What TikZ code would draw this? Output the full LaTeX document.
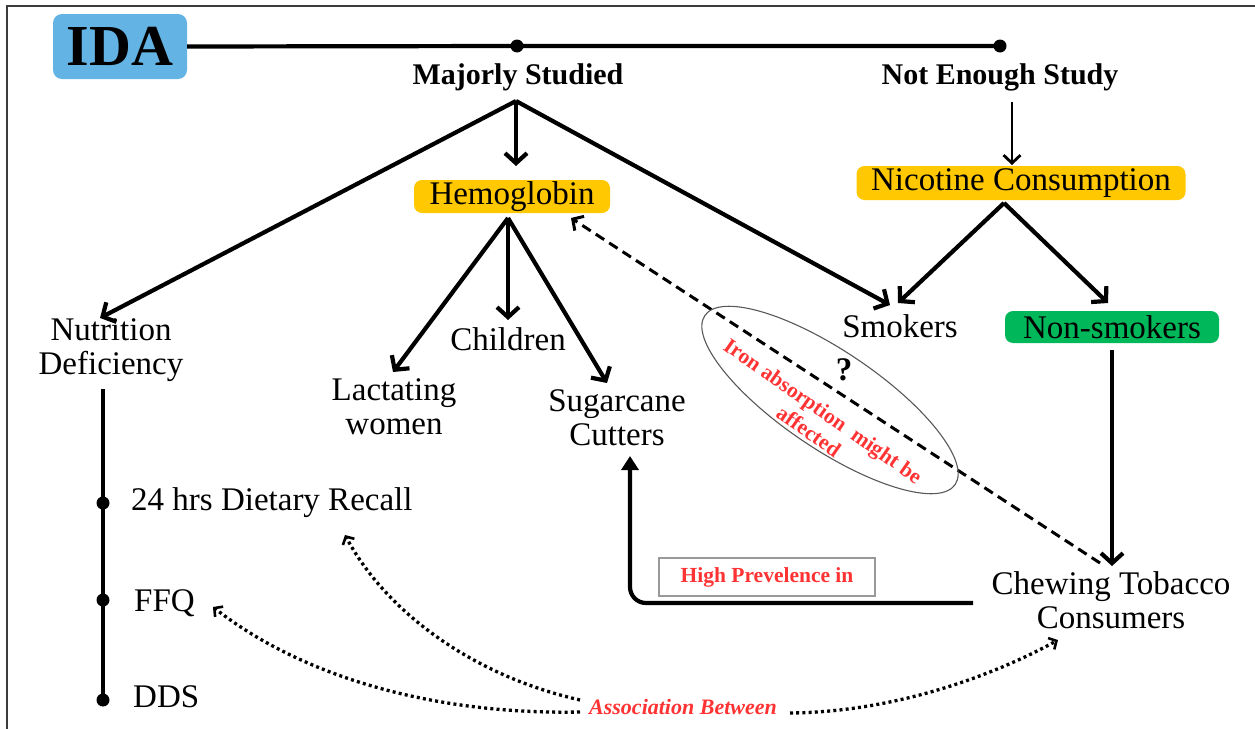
\documentclass[tikz,border=0pt]{standalone}
\usepackage{fontspec}
\setmainfont{Liberation Serif}
\usetikzlibrary{arrows.meta}
\definecolor{idablue}{RGB}{99,179,228}
\definecolor{hbyellow}{RGB}{255,200,0}
\definecolor{nsgreen}{RGB}{0,184,90}
\definecolor{redtxt}{RGB}{255,51,51}
\definecolor{framegray}{RGB}{60,60,60}
\begin{document}
\begin{tikzpicture}[x=1pt,y=-1pt,
  txt/.style={font=\fontsize{33}{34}\selectfont, align=center, inner sep=0pt},
  btxt/.style={font=\fontsize{30}{33}\selectfont\bfseries, inner sep=0pt},
  pill/.style={rounded corners=8pt, inner sep=0pt, font=\fontsize{33}{34}\selectfont},
  conn/.style={line width=4.2pt, -{Straight Barb[length=10pt,width=22pt]}},
  thinconn/.style={line width=2.8pt, -{Straight Barb[length=8pt,width=17pt]}},
  dashconn/.style={line width=3pt, dash pattern=on 10pt off 6pt, -{Straight Barb[length=8pt,width=17pt]}},
  dotconn/.style={line width=3.3pt, dash pattern=on 3pt off 3.2pt, -{Straight Barb[length=6pt,width=13pt,line width=2.6pt]}},
  dotmark/.style={circle, fill=black, inner sep=0pt, minimum size=13pt},
  redbold/.style={text=redtxt, font=\fontsize{21.5}{25}\selectfont\bfseries, inner sep=0pt}
]
\useasboundingbox (0,0) rectangle (1255,728);
\fill[white] (0,0) rectangle (1255,728);
% frame
\draw[framegray, line width=1.5pt] (7,730) -- (7,6) -- (1257,6);

% IDA and top line
\node[fill=idablue, rounded corners=9pt, minimum width=134pt, minimum height=65pt, inner sep=0pt,
      font=\fontsize{58}{60}\selectfont\bfseries] (ida) at (120,46.5) {IDA};
\node[dotmark] (d1) at (517,46) {};
\node[dotmark] (d2) at (1000,46) {};
\draw[line width=4.2pt] (ida.east) -- (d1.center) -- (d2.center);

\node[btxt] (ms) at (518,77) {Majorly Studied};
\node[btxt] (nes) at (1000,77) {Not Enough Study};

% Majorly studied branches
\coordinate (msb) at (516,101);
\node[pill, fill=hbyellow, minimum width=196pt, minimum height=33pt] (hb) at (512,196.5) {Hemoglobin};
\node[txt] (nd) at (111,350) {Nutrition\\Deficiency};
\node[txt] (smk) at (900,326) {Smokers};
\coordinate (ndtip) at (100,318);
\coordinate (hbtip) at (516,166);
\coordinate (smktip) at (890,305);
\draw[conn] (msb) -- (ndtip);
\draw[conn] (msb) -- (hbtip);
\draw[conn] (msb) -- (smktip);

% Hemoglobin branches
\coordinate (hbb) at (508,218);
\node[txt] (lw) at (394,407) {Lactating\\women};
\node[txt] (ch) at (508,339) {Children};
\node[txt] (sc) at (617,418) {Sugarcane\\Cutters};
\coordinate (lwtip) at (393,372);
\coordinate (chtip) at (508,320);
\coordinate (sctip) at (607,383);
\draw[conn] (hbb) -- (lwtip);
\draw[conn] (hbb) -- (chtip);
\draw[conn] (hbb) -- (sctip);

% Not enough study branch
\node[pill, fill=hbyellow, minimum width=329pt, minimum height=34pt] (nic) at (1021,183) {Nicotine Consumption};
\coordinate (nestop) at (1012,102);
\coordinate (nictip) at (1012,165);
\draw[thinconn] (nestop) -- (nictip);
\coordinate (nicb) at (1004,203);
\node[pill, fill=nsgreen, minimum width=214pt, minimum height=32pt] (ns) at (1112,327) {Non-smokers};
\coordinate (smktip2) at (898,303);
\coordinate (nstip) at (1108,303);
\draw[conn] (nicb) -- (smktip2);
\draw[conn] (nicb) -- (nstip);

% Chewing tobacco
\node[txt] (ct) at (1111,600) {Chewing Tobacco\\Consumers};
\coordinate (nsb) at (1112,350);
\coordinate (cttip) at (1112,566);
\draw[conn] (nsb) -- (cttip);

% dashed to hemoglobin
\coordinate (ctdash) at (1100,563);
\coordinate (hbdash) at (571,218);
\draw[dashconn] (ctdash) -- (hbdash);

% ellipse with text
\draw[black!65, line width=1.1pt, rotate around={-34:(830,400)}] (830,400) ellipse [x radius=151, y radius=49];
\node[redbold, rotate=-35, align=center] (iron) at (816,421) {Iron absorption\ \ might be\\affected};
\node[font=\fontsize{33}{34}\selectfont\bfseries, inner sep=0pt] (q) at (844,370) {?};

% high prevalence
\node[draw=black!40, line width=1.2pt, minimum width=216pt, minimum height=38pt, inner sep=0pt, redbold] (hp) at (767,577) {High Prevelence in};
\coordinate (ctl) at (973,603);
\coordinate (sctip2) at (630,456);
\draw[line width=4.2pt, rounded corners=16pt, -{Triangle[length=14pt,width=17pt]}] (ctl) -- (630,603) -- (sctip2);

% nutrition timeline
\coordinate (ndb) at (103,389);
\node[dotmark] (t1) at (103,503) {};
\node[dotmark] (t2) at (103,600) {};
\node[dotmark] (t3) at (103,700) {};
\draw[line width=4.2pt] (ndb) -- (t1.center) -- (t2.center) -- (t3.center);
\node[txt, anchor=west] (r24) at (131,503) {24 hrs Dietary Recall};
\node[txt, anchor=west] (ffq) at (134,603) {FFQ};
\node[txt, anchor=west] (dds) at (133,697) {DDS};

% association
\node[text=redtxt, font=\fontsize{22}{25}\selectfont\bfseries\itshape, inner sep=0pt] (assoc) at (683,707) {Association Between};
\coordinate (a1) at (580,700);
\coordinate (a2) at (580,712);
\coordinate (a3) at (790,713);
\coordinate (r24tip) at (345,535);
\coordinate (ffqtip) at (213,607);
\coordinate (cttip2) at (1058,640);
\draw[dotconn] (a1) .. controls (470,675) and (385,610) .. (r24tip);
\draw[dotconn] (a2) .. controls (430,715) and (300,675) .. (ffqtip);
\draw[dotconn] (a3) .. controls (900,712) and (1000,672) .. (cttip2);
\end{tikzpicture}
\end{document}
